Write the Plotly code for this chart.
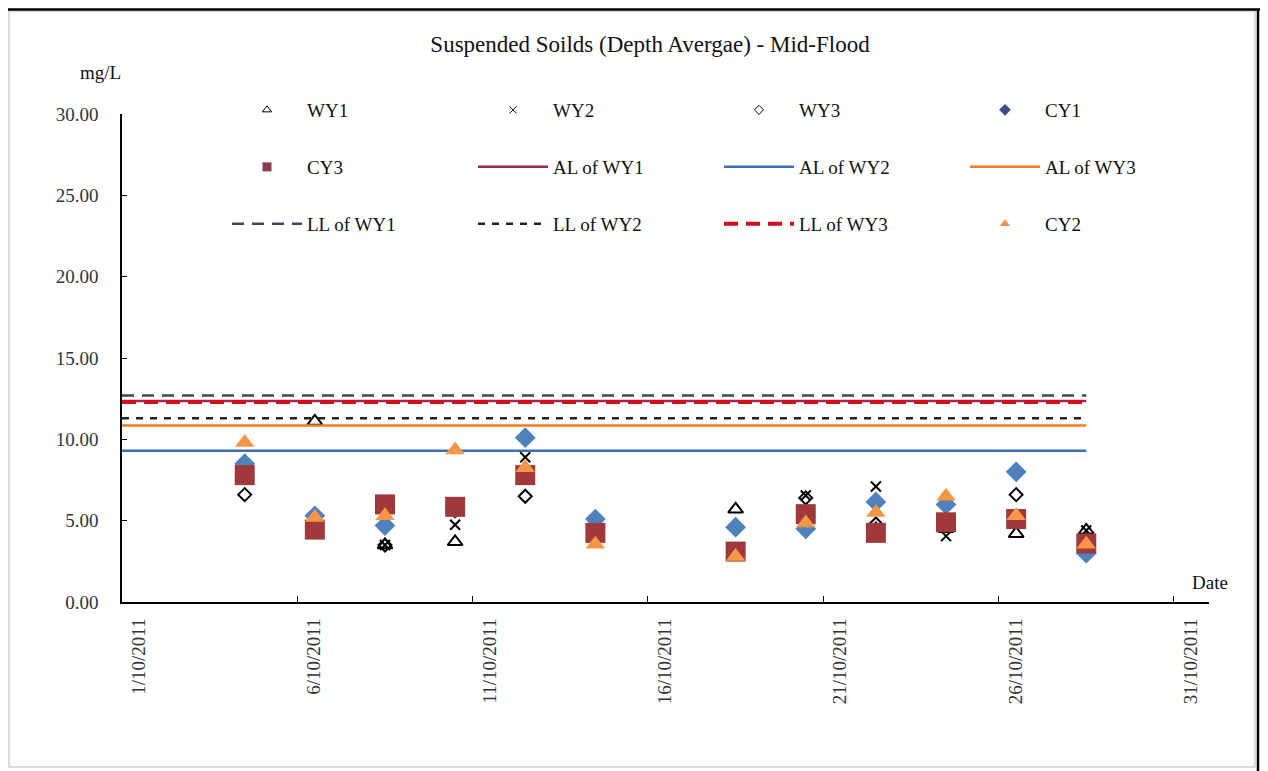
import plotly.graph_objects as go

# ---------------- data ----------------
dates = ["2011-10-04 12:00", "2011-10-06 12:00", "2011-10-08 12:00", "2011-10-10 12:00",
         "2011-10-12 12:00", "2011-10-14 12:00", "2011-10-18 12:00", "2011-10-20 12:00",
         "2011-10-22 12:00", "2011-10-24 12:00", "2011-10-26 12:00", "2011-10-28 12:00"]

WY1 = [8.2, 11.1, 3.5, 3.7, 8.0, 4.3, 5.7, 5.6, 4.5, 4.5, 4.2, 4.4]
WY2 = [7.6, 4.6, 3.5, 4.75, 8.9, 4.5, 3.0, 6.55, 7.1, 4.05, 5.0, 4.4]
WY3 = [6.6, 4.8, 3.5, 5.6, 6.5, 4.0, 3.2, 6.4, 4.8, 4.7, 6.6, 3.8]
CY1 = [8.5, 5.3, 4.7, 5.8, 10.1, 5.1, 4.6, 4.5, 6.15, 6.0, 8.0, 3.0]
CY3 = [7.8, 4.45, 6.0, 5.85, 7.8, 4.25, 3.1, 5.4, 4.25, 4.9, 5.1, 3.6]
CY2 = [9.8, 5.2, 5.3, 9.35, 8.25, 3.55, 2.8, 4.85, 5.5, 6.5, 5.3, 3.55]

limit_span = ["2011-10-01 00:00", "2011-10-28 12:00"]
AL_WY1 = 12.35
AL_WY2 = 9.3
AL_WY3 = 10.85
LL_WY1 = 12.7
LL_WY2 = 11.3
LL_WY3 = 12.3

tick_dates = ["2011-10-01", "2011-10-06", "2011-10-11", "2011-10-16",
              "2011-10-21", "2011-10-26", "2011-10-31"]
tick_labels = ["1/10/2011", "6/10/2011", "11/10/2011", "16/10/2011",
               "21/10/2011", "26/10/2011", "31/10/2011"]
y_ticks = [0, 5, 10, 15, 20, 25, 30]

# ---------------- layout geometry ----------------
OFF = 8                      # page margin of the html body
W, H = 1260, 763
L, R, T, B = 114, 59, 106, 169
PW, PH = W - L - R, H - T - B


def px_x(px):
    """page pixel x -> paper x"""
    return (px - OFF - L) / PW


def px_y(py):
    """page pixel y -> paper y"""
    return (H - B - (py - OFF)) / PH


FONT = "Liberation Serif"
C_CY1 = "#4F81BD"
C_CY3 = "#A0393B"
C_CY2 = "#F79646"

fig = go.Figure()

# ---- marker traces (data) ----
marker_specs = [
    ("WY1", WY1, dict(symbol="triangle-up-open", size=13, color="black", line=dict(width=2, color="black")), "legend"),
    ("WY2", WY2, dict(symbol="x-thin-open", size=10, color="black", line=dict(width=2, color="black")), "legend"),
    ("WY3", WY3, dict(symbol="diamond-open", size=10, color="black", line=dict(width=2, color="black")), "legend"),
    ("CY1", CY1, dict(symbol="diamond", size=16, color=C_CY1, line=dict(width=0)), "legend"),
    ("CY3", CY3, dict(symbol="square", size=20, color=C_CY3, line=dict(width=0)), "legend2"),
]
legend_markers = {
    "WY1": dict(symbol="triangle-up-open", size=8, color="black", line=dict(width=1, color="black")),
    "WY2": dict(symbol="x-thin-open", size=7, color="black", line=dict(width=1, color="black")),
    "WY3": dict(symbol="diamond-open", size=7, color="black", line=dict(width=1, color="black")),
    "CY1": dict(symbol="diamond", size=9, color="#3B4F8A", line=dict(width=0)),
    "CY3": dict(symbol="square", size=9, color="#8B3A4A", line=dict(width=0)),
    "CY2": dict(symbol="triangle-up", size=9, color=C_CY2, line=dict(width=0)),
}

for name, vals, mk, lg in marker_specs:
    fig.add_trace(go.Scatter(x=dates, y=vals, mode="markers", name=name, marker=mk,
                             showlegend=False))
    fig.add_trace(go.Scatter(x=[None], y=[None], mode="markers", name=name,
                             marker=legend_markers[name], legend=lg))

# ---- limit lines ----
line_specs = [
    ("AL of WY1", AL_WY1, dict(color="#9E2A4F", width=2.5), "legend2"),
    ("AL of WY2", AL_WY2, dict(color="#3D6DB5", width=2.5), "legend2"),
    ("AL of WY3", AL_WY3, dict(color="#F47B20", width=2.5), "legend2"),
    ("LL of WY1", LL_WY1, dict(color="#3F4760", width=2.5, dash="12px,8px"), "legend3"),
    ("LL of WY2", LL_WY2, dict(color="#222222", width=2.5, dash="7px,7px"), "legend3"),
    ("LL of WY3", LL_WY3, dict(color="#D0101E", width=4, dash="14px,8px"), "legend3"),
]
for name, val, ln, lg in line_specs:
    fig.add_trace(go.Scatter(x=limit_span, y=[val, val], mode="lines", name=name,
                             line=ln, legend=lg))

# ---- CY2 on top ----
fig.add_trace(go.Scatter(x=dates, y=CY2, mode="markers", name="CY2",
                         marker=dict(symbol="triangle-up", size=17, color=C_CY2, line=dict(width=0)),
                         showlegend=False))
fig.add_trace(go.Scatter(x=[None], y=[None], mode="markers", name="CY2",
                         marker=legend_markers["CY2"], legend="legend3"))

legend_common = dict(orientation="h", xanchor="left", yanchor="middle",
                     x=px_x(227), bgcolor="rgba(0,0,0,0)",
                     font=dict(family=FONT, size=19, color="#111"),
                     itemwidth=70, entrywidth=161, itemclick=False,
                     traceorder="normal")

ann_font = dict(family=FONT, size=19, color="#111")

fig.update_layout(
    width=W, height=H,
    margin=dict(l=L, r=R, t=T, b=B),
    paper_bgcolor="white", plot_bgcolor="white",
    title=dict(text="Suspended Soilds (Depth Avergae) - Mid-Flood",
               x=(650 - OFF) / W, xanchor="center", y=1 - (44 - OFF) / H, yanchor="middle",
               font=dict(family=FONT, size=23, color="#111")),
    legend=dict(legend_common, y=px_y(110)),
    legend2=dict(legend_common, y=px_y(167)),
    legend3=dict(legend_common, y=px_y(224)),
    xaxis=dict(type="date", range=["2011-10-01", "2011-11-01"],
               tickvals=tick_dates, ticktext=tick_labels, tickangle=-90,
               ticks="inside", ticklen=6, tickcolor="black",
               showline=True, linecolor="black", linewidth=1.5,
               showgrid=False, zeroline=False,
               tickfont=dict(family=FONT, size=19, color="#333"),
               ticklabelstandoff=7, ticklabelshift=17),
    yaxis=dict(range=[0, 30], tickvals=y_ticks, tickformat=".2f",
               ticks="inside", ticklen=5, tickcolor="black",
               showline=True, linecolor="black", linewidth=1.5,
               showgrid=False, zeroline=False,
               tickfont=dict(family=FONT, size=19, color="#333"),
               ticklabelstandoff=18),
    annotations=[
        dict(text="mg/L", x=px_x(100), y=px_y(73), xref="paper", yref="paper",
             xanchor="center", yanchor="middle", showarrow=False, font=ann_font),
        dict(text="Date", x=px_x(1210), y=px_y(582), xref="paper", yref="paper",
             xanchor="center", yanchor="middle", showarrow=False, font=ann_font),
    ],
    shapes=[
        dict(type="rect", xref="paper", yref="paper",
             x0=px_x(OFF + 1), x1=px_x(1255), y0=px_y(767), y1=px_y(11),
             line=dict(color="#D0D0D0", width=1.5), fillcolor="rgba(0,0,0,0)", layer="below"),
        dict(type="line", xref="paper", yref="paper",
             x0=px_x(OFF), x1=px_x(OFF + W), y0=px_y(OFF + 1.5), y1=px_y(OFF + 1.5),
             line=dict(color="black", width=2.5)),
        dict(type="line", xref="paper", yref="paper",
             x0=px_x(1258), x1=px_x(1258), y0=px_y(OFF + 1.5), y1=px_y(OFF + H),
             line=dict(color="black", width=2.5)),
    ],
)

fig.write_html("out.html")
